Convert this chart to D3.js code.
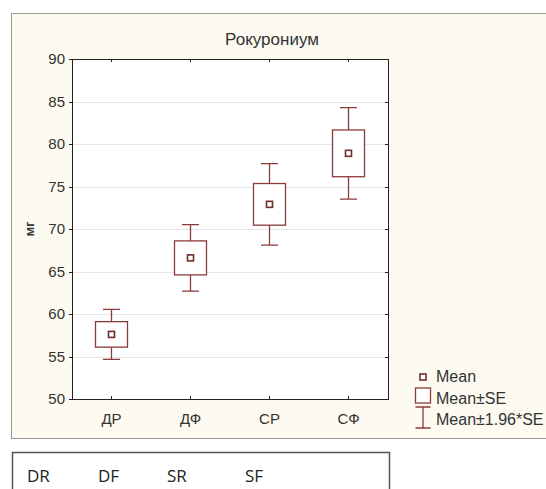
<!DOCTYPE html>
<html lang="ru">
<meta charset="utf-8">
<head>
  <title>Рокурониум</title>
  <style>
  body { margin: 0; background: #fff; }
  svg text { font-family: "Liberation Sans", Arial, sans-serif; fill: #333; }
  .grid line { stroke: #e6e6e6; shape-rendering: crispEdges; }
  .grid path { stroke-width: 0; }
  .axis path, .axis line { stroke: #222; shape-rendering: crispEdges; }
  .box { fill: #fff; stroke: #8c3b3b; stroke-width: 1.3px; }
  .mark { fill: #fff; stroke: #6e2e2e; stroke-width: 1.6px; }
  .whisker { stroke: #8c3b3b; stroke-width: 1.3px; fill: none; }
  .codes text { font-family: "Open Sans", "Liberation Sans", sans-serif; fill: #222; }
  </style>
</head>
<body>
<svg id="chart" width="546" height="489"></svg>
<script src="https://cdn.jsdelivr.net/npm/d3@7"></script>
<script>

// values
var groups = ["ДР", "ДФ", "СР", "СФ"];
var means = [57.6, 66.6, 72.9, 78.9];
var stdErr = [1.5, 2.0, 2.45, 2.75];
var yTicks = [50, 55, 60, 65, 70, 75, 80, 85, 90];
var codes = ["DR", "DF", "SR", "SF"];
var legendLabels = ["Mean", "Mean±SE", "Mean±1.96*SE"];

var svg = d3.select("svg#chart"),
    margin = {top: 59, right: 158, bottom: 90, left: 72},
    width = 546 - margin.left - margin.right,
    height = 489 - margin.top - margin.bottom;

// outer frame
svg.append("rect")
    .attr("x", 11.5).attr("y", 13.5)
    .attr("width", 545).attr("height", 425)
    .attr("fill", "#fcfaf1")
    .attr("stroke", "#9a9a9a");

var g = svg.append("g").attr("transform", "translate(" + margin.left + "," + margin.top + ")");

var xScale = d3.scaleBand().domain(groups).range([0, width]).padding(0),
    yScale = d3.scaleLinear().domain([50, 90]).range([height, 0]);

var data = groups.map(function(k, i) {
  return {id: k, mean: means[i], se: stdErr[i]};
});

g.append("rect")
    .attr("width", width).attr("height", height)
    .attr("fill", "#fff");

// gridlines
g.append("g")
    .attr("class", "grid")
    .call(d3.axisLeft(yScale).tickValues(yTicks.slice(1, -1)).tickSize(-width).tickFormat(""));

// axes
g.append("g")
    .attr("class", "axis axis--y")
    .call(d3.axisLeft(yScale).tickValues(yTicks).tickSize(3).tickPadding(4))
    .selectAll("text").style("font-size", "15px");

g.append("g")
    .attr("class", "axis axis--y2")
    .attr("transform", "translate(" + width + ",0)")
    .call(d3.axisLeft(yScale).tickValues(yTicks).tickSize(3).tickFormat(""));

g.append("g")
    .attr("class", "axis axis--x")
    .attr("transform", "translate(0," + height + ")")
    .call(d3.axisTop(xScale).tickSize(3).tickFormat(""));

g.append("g")
    .attr("class", "axis axis--x2")
    .call(d3.axisBottom(xScale).tickSize(3).tickFormat(""));

g.selectAll(".xlabel")
    .data(groups)
  .enter().append("text")
    .attr("class", "xlabel")
    .attr("x", function(d) { return xScale(d) + xScale.bandwidth() / 2; })
    .attr("y", height + 25)
    .attr("text-anchor", "middle")
    .style("font-size", "15px")
    .text(function(d) { return d; });

// y label
svg.append("text")
    .attr("transform", "translate(34,229) rotate(-90)")
    .attr("text-anchor", "middle")
    .style("font-size", "13px")
    .style("font-weight", "bold")
    .text("мг");

// title
svg.append("text")
    .attr("x", 272).attr("y", 45)
    .attr("text-anchor", "middle")
    .style("font-size", "17px")
    .text("Рокурониум");

var boxW = 32, capW = 17, markW = 6;

var item = g.selectAll(".item")
    .data(data)
  .enter().append("g")
    .attr("class", "item")
    .attr("transform", function(d) { return "translate(" + (xScale(d.id) + xScale.bandwidth() / 2) + ",0)"; });

item.append("path")
    .attr("class", "whisker")
    .attr("d", function(d) {
      var hi = yScale(d.mean + 1.96 * d.se), lo = yScale(d.mean - 1.96 * d.se);
      return "M" + (-capW / 2) + "," + hi + "H" + (capW / 2) +
             "M0," + hi + "V" + lo +
             "M" + (-capW / 2) + "," + lo + "H" + (capW / 2);
    });

item.append("rect")
    .attr("class", "box")
    .attr("x", -boxW / 2)
    .attr("width", boxW)
    .attr("y", function(d) { return yScale(d.mean + d.se); })
    .attr("height", function(d) { return yScale(d.mean - d.se) - yScale(d.mean + d.se); });

item.append("rect")
    .attr("class", "mark")
    .attr("x", -markW / 2)
    .attr("width", markW)
    .attr("y", function(d) { return yScale(d.mean) - markW / 2; })
    .attr("height", markW);

// legend
var lg = svg.append("g").attr("transform", "translate(423,0)");

lg.append("rect").attr("class", "mark")
    .attr("x", -3).attr("y", 374).attr("width", 6).attr("height", 6);
lg.append("rect").attr("class", "box")
    .attr("x", -7.5).attr("y", 388).attr("width", 15).attr("height", 15);
lg.append("path").attr("class", "whisker")
    .attr("d", "M-7.5,407H7.5M0,407V428M-7.5,428H7.5");

lg.selectAll(".ltext")
    .data(legendLabels)
  .enter().append("text")
    .attr("class", "ltext")
    .attr("x", 13)
    .attr("y", function(d, i) { return 382 + i * 21.5; })
    .style("font-size", "16px")
    .text(function(d) { return d; });

// code row below the chart
svg.append("rect")
    .attr("x", 12.5).attr("y", 452.5)
    .attr("width", 377).attr("height", 60)
    .attr("fill", "#fff")
    .attr("stroke", "#555")
    .attr("stroke-width", 1.5);

var codeX = [27, 98, 167, 245];
svg.append("g").attr("class", "codes")
  .selectAll("text")
    .data(codes)
  .enter().append("text")
    .attr("x", function(d, i) { return codeX[i]; })
    .attr("y", 482)
    .style("font-size", "17px")
    .text(function(d) { return d; });

</script>
</body>
</html>
